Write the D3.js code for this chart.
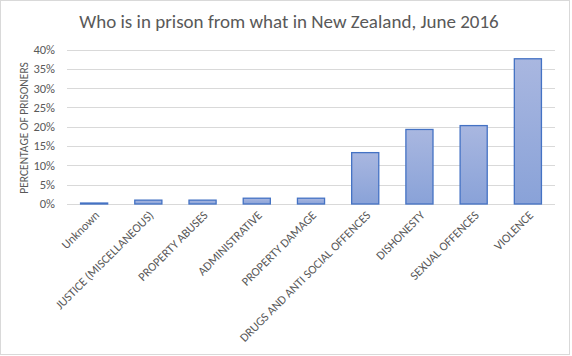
<!DOCTYPE html>
<html><head><meta charset="utf-8">
<script src="https://cdn.jsdelivr.net/npm/d3@7/dist/d3.min.js"></script>
<style>body{margin:0;background:#fff}svg{display:block}</style>
</head><body>
<svg id="c" width="572" height="356"></svg>
<script>
const categories = ["Unknown","JUSTICE (MISCELLANEOUS)","PROPERTY ABUSES","ADMINISTRATIVE","PROPERTY DAMAGE","DRUGS AND ANTI SOCIAL OFFENCES","DISHONESTY","SEXUAL OFFENCES","VIOLENCE"];
const values = [0.25, 1.0, 1.0, 1.5, 1.5, 13.3, 19.3, 20.3, 37.6];
const yTicks = [0,5,10,15,20,25,30,35,40];
const title = "Who is in prison from what in New Zealand, June 2016";
const yTitle = "PERCENTAGE OF PRISONERS";

const svg = d3.select("#c");
const font = "Carlito, Calibri, 'Liberation Sans', 'Open Sans', sans-serif";
svg.append("rect").attr("x",0.5).attr("y",0.5).attr("width",569).attr("height",354)
  .attr("fill","#fff").attr("stroke","#d9d9d9");

const x = d3.scaleBand().domain(categories).range([67,555]).paddingInner(0.5).paddingOuter(0.25);
const y = d3.scaleLinear().domain([0,40]).range([204,49.5]);

const defs = svg.append("defs");
const g = defs.append("linearGradient").attr("id","bg").attr("x1",0).attr("y1",0).attr("x2",0).attr("y2",1);
g.append("stop").attr("offset","0%").attr("stop-color","#a9b7e0");
g.append("stop").attr("offset","100%").attr("stop-color","#89a2d8");

svg.append("g").selectAll("line").data(yTicks).join("line")
  .attr("x1",67).attr("x2",555).attr("y1",d=>Math.round(y(d))+0.5).attr("y2",d=>Math.round(y(d))+0.5)
  .attr("stroke","#d9d9d9").attr("stroke-width",1);

svg.append("g").selectAll("text").data(yTicks).join("text")
  .attr("x",55).attr("y",d=>y(d)).attr("dy","0.35em").attr("text-anchor","end")
  .attr("font-family",font).attr("font-size",12.5).attr("fill","#595959")
  .text(d=>d+"%");

svg.append("g").selectAll("rect").data(values).join("rect")
  .attr("x",(d,i)=>x(categories[i])).attr("width",x.bandwidth())
  .attr("y",d=>y(d)).attr("height",d=>y(0)-y(d))
  .attr("fill","url(#bg)").attr("stroke","#4472c4").attr("stroke-width",1.3);

svg.append("g").selectAll("text").data(categories).join("text")
  .attr("transform",d=>`translate(${x(d)+x.bandwidth()/2+3},${213}) rotate(-45)`)
  .attr("text-anchor","end").attr("dy","0.35em")
  .attr("font-family",font).attr("font-size",12.2).attr("fill","#595959")
  .text(d=>d);

svg.append("text").attr("transform",`translate(24,${(58+198)/2}) rotate(-90)`)
  .attr("text-anchor","middle").attr("dy","0.35em")
  .attr("font-family",font).attr("font-size",11.5).attr("fill","#595959").text(yTitle);

svg.append("text").attr("x",289).attr("y",28).attr("text-anchor","middle")
  .attr("font-family",font).attr("font-size",19).attr("fill","#595959").text(title);
</script>
</body></html>
